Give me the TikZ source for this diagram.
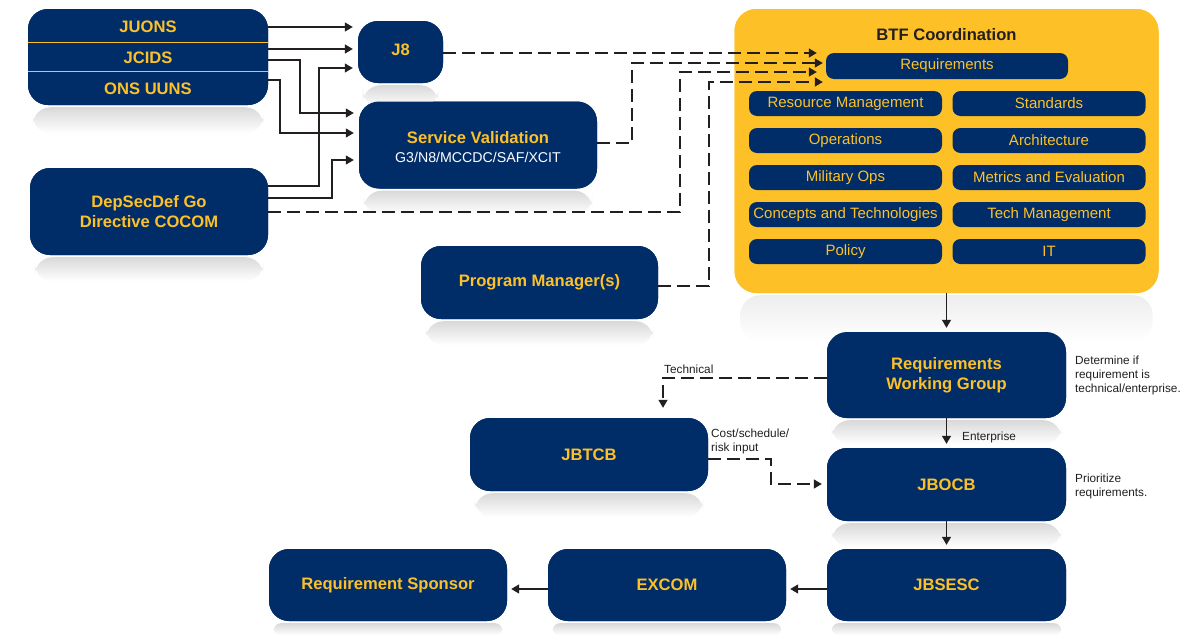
\documentclass[tikz,border=0pt]{standalone}
\usepackage{fontspec}
\setmainfont{Liberation Sans}
\usetikzlibrary{arrows.meta,calc}
\definecolor{navy}{RGB}{0,45,104}
\definecolor{gold}{RGB}{253,193,39}
\definecolor{ink}{RGB}{35,31,32}
\newcommand\bigfnt{\fontsize{16.6}{20}\selectfont\bfseries}
\newcommand\barfnt{\fontsize{15}{18}\selectfont}
\newcommand\notefnt{\fontsize{11.8}{14}\selectfont}
\newcommand\myrefl[3]{\shade[top color=gray!30,bottom color=white,rounded corners=#3]
  ($(#1.south west)+(5,2)$) rectangle ($(#1.south east)+(-5,#2)$);}
\begin{document}
\begin{tikzpicture}[x=1pt,y=-1pt,
  bigbox/.style={fill=navy,rounded corners=20pt,text=gold,font=\bigfnt,align=center,inner sep=0pt},
  bar/.style={fill=navy,rounded corners=8pt,text=gold,font=\barfnt,minimum width=193pt,minimum height=25pt,inner sep=0pt},
  conn/.style={draw=ink,line width=1.3pt},
  arr/.style={conn,-{Triangle[length=8pt,width=9pt]},shorten >=5pt},
  darr/.style={arr,dash pattern=on 13pt off 6pt},
  note/.style={font=\notefnt,text=ink,align=left,inner sep=0pt,anchor=west}
]
\useasboundingbox (0,0) rectangle (1204,635);
\fill[white] (0,0) rectangle (1204,635);

% level coordinates
\foreach \v in {27,49,53,60,63,68,72,80,82,113,133,143,160,186,198,212,286,378,459,484,589}
  \coordinate (L\v) at (0,\v);
\coordinate (X663) at (663,0);

% main boxes (positions)
\path
  node[bigbox,minimum width=240pt,minimum height=96pt] (needs) at (148,57) {}
  node[bigbox,minimum width=85pt,minimum height=62pt] (j8) at (400.5,52) {}
  node[bigbox,minimum width=238pt,minimum height=87pt] (sv) at (478,145) {}
  node[bigbox,minimum width=238pt,minimum height=87pt] (dep) at (149,211.5) {}
  node[bigbox,minimum width=237pt,minimum height=73pt] (pm) at (539.5,282.5) {}
  node[fill=gold,rounded corners=22pt,minimum width=424pt,minimum height=284pt,inner sep=0pt] (btf) at (946.5,151) {}
  node[bigbox,minimum width=239pt,minimum height=86pt] (rwg) at (946.5,375) {}
  node[bigbox,minimum width=238pt,minimum height=73pt] (jbtcb) at (589,454.5) {}
  node[bigbox,minimum width=239pt,minimum height=73pt] (jbocb) at (946.5,484.5) {}
  node[bigbox,minimum width=239pt,minimum height=72pt] (jbsesc) at (946.5,585) {}
  node[bigbox,minimum width=238pt,minimum height=72pt] (excom) at (667,585) {}
  node[bigbox,minimum width=238pt,minimum height=72pt] (sponsor) at (388,585) {};

% reflections
\myrefl{needs}{28}{18pt}
\myrefl{j8}{24}{18pt}
\myrefl{sv}{26}{18pt}
\myrefl{dep}{26}{18pt}
\myrefl{pm}{26}{18pt}
\myrefl{rwg}{26}{18pt}
\myrefl{jbtcb}{26}{18pt}
\myrefl{jbocb}{26}{18pt}
\myrefl{jbsesc}{14}{7pt}
\myrefl{excom}{14}{7pt}
\myrefl{sponsor}{14}{7pt}
\shade[top color=gray!14,bottom color=white,rounded corners=20pt]
  ($(btf.south west)+(6,2)$) rectangle ($(btf.south east)+(-6,48)$);

% boxes drawn on top of reflections
\node[bigbox,minimum width=240pt,minimum height=96pt] at (needs) {};
\node[bigbox,minimum width=85pt,minimum height=62pt] at (400.5,52) {};
\node[text=gold,font=\bigfnt] (j8t) at (400.5,49.5) {J8};
\node[bigbox,minimum width=238pt,minimum height=87pt] at (sv) {};
\node[text=gold,font=\bigfnt] (svt) at (478,138) {Service Validation};
\node[text=white,font=\fontsize{14.2}{17}\selectfont] (svs) at (478,157) {G3/N8/MCCDC/SAF/XCIT};
\node[bigbox,minimum width=238pt,minimum height=87pt] at (dep) {DepSecDef Go\\Directive COCOM};
\node[bigbox,minimum width=237pt,minimum height=73pt] at (pm) {Program Manager(s)};
\node[fill=gold,rounded corners=22pt,minimum width=424pt,minimum height=284pt,inner sep=0pt] at (btf) {};
\node[bigbox,minimum width=239pt,minimum height=86pt] at (rwg) {Requirements\\Working Group};
\node[bigbox,minimum width=238pt,minimum height=73pt] at (jbtcb) {JBTCB};
\node[bigbox,minimum width=239pt,minimum height=73pt] at (jbocb) {JBOCB};
\node[bigbox,minimum width=239pt,minimum height=72pt] at (jbsesc) {JBSESC};
\node[bigbox,minimum width=238pt,minimum height=72pt] at (excom) {EXCOM};
\node[bigbox,minimum width=238pt,minimum height=72pt] at (sponsor) {Requirement Sponsor};

% needs box contents
\draw[gold,line width=0.9pt] (needs.west |- 0,42) -- (needs.east |- 0,42);
\draw[gold,line width=0.9pt] (needs.west |- 0,71) -- (needs.east |- 0,71);
\node[text=gold,font=\bigfnt] (juons) at (148,27) {JUONS};
\node[text=gold,font=\bigfnt] (jcids) at (148,58) {JCIDS};
\node[text=gold,font=\bigfnt] (onsuuns) at (148,89) {ONS UUNS};

% BTF contents
\node[text=ink,font=\bigfnt] (btftitle) at (946.5,35) {BTF Coordination};
\node[bar,minimum width=242pt,minimum height=26pt] (req) at (947,66) {Requirements};
\node[bar] (resm) at (845.5,103.5) {Resource Management};
\node[bar] (ops) at (845.5,140.5) {Operations};
\node[bar] (milops) at (845.5,177.5) {Military Ops};
\node[bar] (concepts) at (845.5,214.5) {Concepts and Technologies};
\node[bar] (policy) at (845.5,251.5) {Policy};
\node[bar] (stds) at (1049,103.5) {Standards};
\node[bar] (arch) at (1049,140.5) {Architecture};
\node[bar] (metrics) at (1049,177.5) {Metrics and Evaluation};
\node[bar] (techm) at (1049,214.5) {Tech Management};
\node[bar] (it) at (1049,251.5) {IT};

% solid connectors into J8 / Service Validation
\draw[arr] (needs.east |- L27) -- (j8.west |- L27);
\draw[arr] (needs.east |- L49) -- (j8.west |- L49);
\draw[arr,line width=1.1pt] (needs.east |- L60) -- (300,60) -- (300,113) -- (sv.west |- L113);
\draw[arr,line width=1.1pt] (needs.east |- L80) -- (280,80) -- (280,133) -- (sv.west |- L133);
\draw[arr,line width=1.1pt] (dep.east |- L186) -- (319,186) -- (319,68) -- (j8.west |- L68);
\draw[arr,line width=1.1pt] (dep.east |- L198) -- (332,198) -- (332,160) -- (sv.west |- L160);

% dashed connectors into Requirements
\draw[darr,shorten >=9pt] (j8.east |- L53) -- (req.west |- L53);
\draw[darr,shorten >=3pt] (sv.east |- L143) -- (632,143) -- (632,63) -- (req.west |- L63);
\draw[darr,shorten >=9pt] (dep.east |- L212) -- (680,212) -- (680,72) -- (req.west |- L72);
\draw[darr,shorten >=3pt] (pm.east |- L286) -- (709,286) -- (709,82) -- (req.west |- L82);

% lower flow
\draw[arr,shorten >=4pt] (btf.south) -- (rwg.north);
\draw[darr,shorten >=10pt] (rwg.west |- L378) -- (X663 |- L378) -- (X663 |- jbtcb.north);
\draw[arr,shorten >=4pt] (rwg.south) -- (jbocb.north);
\draw[darr] (jbtcb.east |- L459) -- (771,459) -- (771,484) -- (jbocb.west |- L484);
\draw[arr,shorten >=4pt] (jbocb.south) -- (jbsesc.north);
\draw[arr,shorten >=4pt] (jbsesc.west |- L589) -- (excom.east |- L589);
\draw[arr,shorten >=4pt] (excom.west |- L589) -- (sponsor.east |- L589);

% notes
\node[note] (ntech) at (664,369) {Technical};
\node[note] (nent) at (962,437) {Enterprise};
\node[note] (ncost) at (711,441) {Cost/schedule/\\risk input};
\node[note] (ndet) at (1075,375) {Determine if\\requirement is\\technical/enterprise.};
\node[note] (nprio) at (1075,486) {Prioritize\\requirements.};
\end{tikzpicture}
\end{document}
